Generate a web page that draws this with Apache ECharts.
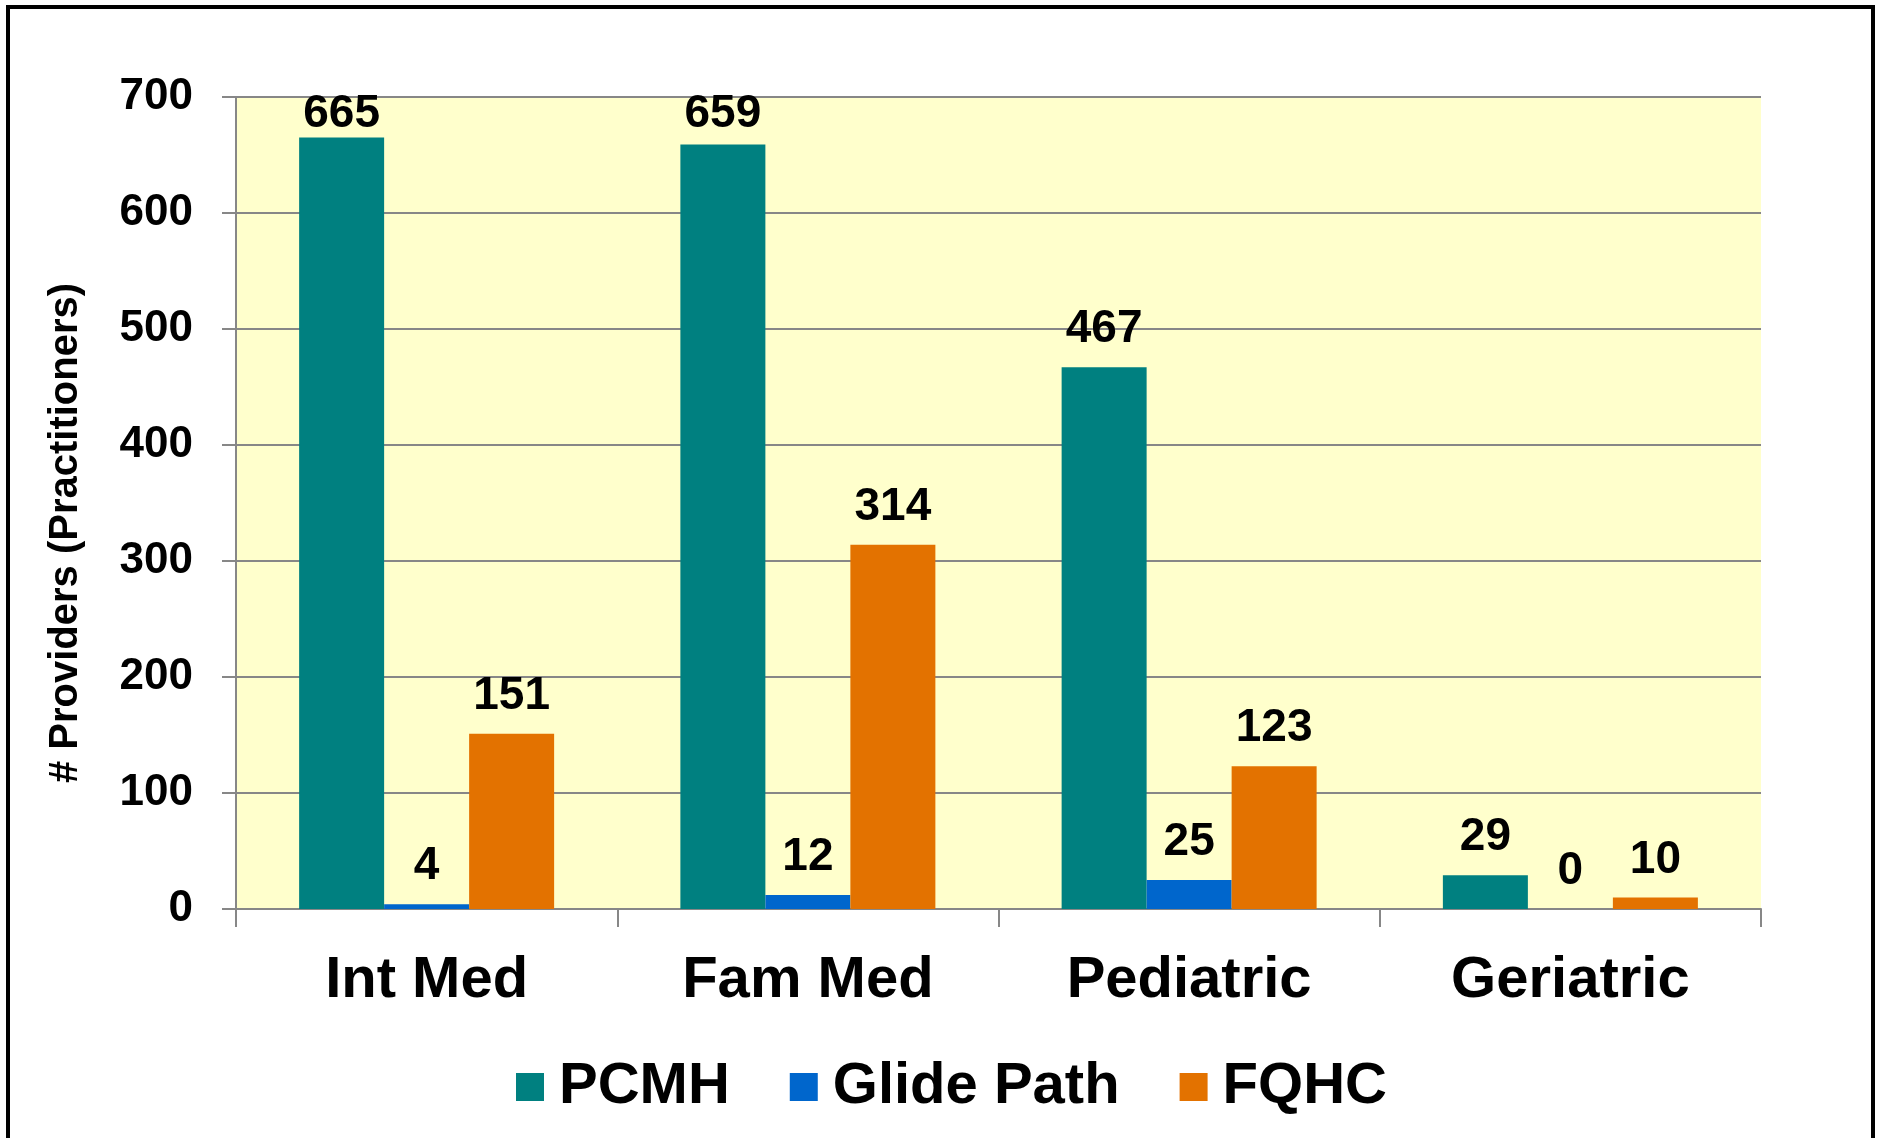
<!DOCTYPE html>
<html>
<head>
<meta charset="utf-8">
<title>Providers by specialty</title>
<script src="https://cdn.jsdelivr.net/npm/echarts@6/dist/echarts.min.js"></script>
<style>
  html, body { margin: 0; padding: 0; background: #fff; }
  #chart { width: 1881px; height: 1138px; }
</style>
</head>
<body>
<div id="chart"></div>
<script>
const categories = ['Int Med', 'Fam Med', 'Pediatric', 'Geriatric']
const pcmh = [665, 659, 467, 29]
const glidePath = [4, 12, 25, 0]
const fqhc = [151, 314, 123, 10]
const yTicks = { min: 0, max: 700, interval: 100 }

const FONT = 'Liberation Sans, Arial, sans-serif'
const gridBox = { left: 236, top: 97, right: 120, bottom: 229 }
const LABEL_SIZE = 46

// excel keeps the value labels inside the plot, so tall bars get a smaller gap
const labelDistance = (v) => {
  const plotH = 1138 - gridBox.top - gridBox.bottom
  const barTop = gridBox.top + plotH * (1 - v / yTicks.max)
  const digitBottom = Math.max(barTop - 21.6, 130)
  return Math.max(0, barTop - digitBottom - LABEL_SIZE * 0.153)
}

const toData = (arr) => arr.map(v => ({ value: v, label: { distance: labelDistance(v) } }))

const chart = echarts.init(document.getElementById('chart'))

const barLabel = {
  show: true,
  position: 'top',
  color: '#000',
  fontFamily: FONT,
  fontWeight: 'bold',
  fontSize: LABEL_SIZE
}

const option = {
  backgroundColor: '#fff',
  animation: false,
  grid: {
    show: true,
    left: gridBox.left,
    top: gridBox.top,
    right: gridBox.right,
    bottom: gridBox.bottom,
    backgroundColor: '#FFFFCC',
    borderWidth: 0
  },
  legend: {
    data: ['PCMH', 'Glide Path', 'FQHC'],
    left: 511,
    top: 1053,
    icon: 'rect',
    itemWidth: 28,
    itemHeight: 28,
    itemGap: 60,
    textStyle: {
      color: '#000',
      fontFamily: FONT,
      fontWeight: 'bold',
      fontSize: 58,
      lineHeight: 58,
      padding: [0, 0, 0, 10]
    }
  },
  graphic: [
    {
      type: 'rect',
      shape: { x: 8, y: 7, width: 1865, height: 1145 },
      style: { fill: 'none', stroke: '#000', lineWidth: 4 },
      silent: true
    },
    {
      type: 'text',
      x: 66,
      y: 533,
      rotation: Math.PI / 2,
      style: {
        text: '# Providers (Practitioners)',
        x: 0,
        y: 0,
        align: 'center',
        verticalAlign: 'middle',
        fill: '#000',
        font: 'bold 40px ' + FONT
      }
    }
  ],
  xAxis: {
    type: 'category',
    data: categories,
    axisLine: { show: true, lineStyle: { color: '#878787', width: 2 } },
    axisTick: {
      show: true,
      interval: 0,
      length: 18,
      lineStyle: { color: '#878787', width: 2 }
    },
    axisLabel: {
      color: '#000',
      fontFamily: FONT,
      fontWeight: 'bold',
      fontSize: 58,
      margin: 43
    },
    splitLine: { show: false }
  },
  yAxis: {
    type: 'value',
    min: yTicks.min,
    max: yTicks.max,
    interval: yTicks.interval,
    axisLine: { show: true, lineStyle: { color: '#878787', width: 2 } },
    axisTick: { show: true, length: 14, lineStyle: { color: '#878787', width: 2 } },
    axisLabel: {
      color: '#000',
      fontFamily: FONT,
      fontWeight: 'bold',
      fontSize: 44,
      margin: 43
    },
    splitLine: { show: true, lineStyle: { color: '#878787', width: 2 } }
  },
  series: [
    {
      name: 'PCMH',
      type: 'bar',
      barWidth: 85,
      barGap: '0%',
      itemStyle: { color: '#008080' },
      label: barLabel,
      data: toData(pcmh)
    },
    {
      name: 'Glide Path',
      type: 'bar',
      barWidth: 85,
      barGap: '0%',
      itemStyle: { color: '#0066CC' },
      label: barLabel,
      data: toData(glidePath)
    },
    {
      name: 'FQHC',
      type: 'bar',
      barWidth: 85,
      barGap: '0%',
      itemStyle: { color: '#E37200' },
      label: barLabel,
      data: toData(fqhc)
    }
  ]
}

chart.setOption(option, true)
</script>
</body>
</html>
